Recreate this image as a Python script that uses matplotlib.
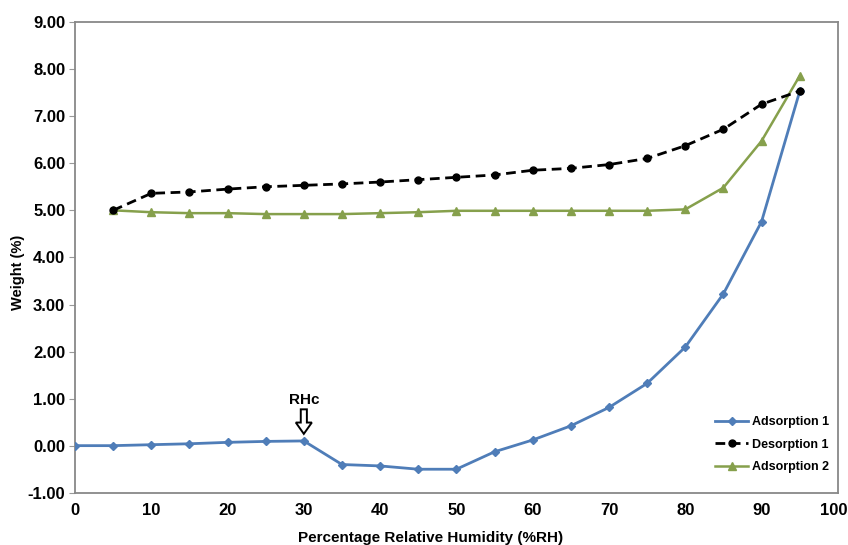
import matplotlib
matplotlib.use('Agg')
import matplotlib.pyplot as plt
import matplotlib.transforms as mtransforms

plt.rcParams['font.family'] = ['Liberation Sans', 'DejaVu Sans']
plt.rcParams['font.weight'] = 'bold'

# relative humidity steps (%RH)
rh = [0, 5, 10, 15, 20, 25, 30, 35, 40, 45, 50, 55, 60, 65, 70, 75, 80, 85, 90, 95]
rh_2 = rh[1:]

# weight change (%)
adsorption_1 = [0.01, 0.01, 0.03, 0.05, 0.08, 0.10, 0.11, -0.39, -0.42, -0.49,
                -0.49, -0.12, 0.13, 0.43, 0.82, 1.33, 2.10, 3.23, 4.76, 7.52]
desorption_1 = [5.00, 5.36, 5.39, 5.45, 5.50, 5.53, 5.56, 5.60, 5.65, 5.70,
                5.75, 5.85, 5.89, 5.97, 6.10, 6.37, 6.72, 7.25, 7.53]
adsorption_2 = [5.00, 4.96, 4.94, 4.94, 4.92, 4.92, 4.92, 4.94, 4.96, 4.99,
                4.99, 4.99, 4.99, 4.99, 4.99, 5.02, 5.48, 6.47, 7.85]

y_ticks = [-1, 0, 1, 2, 3, 4, 5, 6, 7, 8, 9]
x_ticks = [0, 10, 20, 30, 40, 50, 60, 70, 80, 90, 100]

fig = plt.figure(figsize=(8.48, 5.45), dpi=100)
ax = fig.add_axes([0.0884, 0.0949, 0.8996, 0.8653])

ax.plot(rh, adsorption_1, color='#4F7DB8', lw=2.0, marker='D', ms=4.5,
        label='Adsorption 1', zorder=3)
ax.plot(rh_2, desorption_1, color='black', lw=2.0, ls=(0, (3.5, 2)), marker='o',
        ms=5, label='Desorption 1', zorder=4)
ax.plot(rh_2, adsorption_2, color='#86A04C', lw=1.8, marker='^', ms=5.5,
        label='Adsorption 2', zorder=2)

# critical relative humidity marker
ax.text(30, 0.98, 'RHc', ha='center', va='center', fontsize=11, fontweight='bold')
ax.arrow(30, 0.78, 0, -0.52, width=0.8, head_width=2.1, head_length=0.24,
         length_includes_head=True, fc='white', ec='black', lw=1.4, zorder=5)

ax.set_xlim(0, 100)
ax.set_ylim(-1, 9)
ax.set_xticks(x_ticks)
ax.set_yticks(y_ticks)
ax.set_yticklabels([f'{v:.2f}' for v in y_ticks])
ax.tick_params(axis='y', direction='out', length=4, color='#999999', labelsize=12, pad=3)
ax.tick_params(axis='x', length=0, labelsize=12, pad=7)
for lbl in ax.get_xticklabels() + ax.get_yticklabels():
    lbl.set_fontweight('bold')

# keep the last x label inside the figure
last = ax.get_xticklabels()[-1]
last.set_transform(last.get_transform() +
                   mtransforms.ScaledTranslation(-4 / 100, 0, fig.dpi_scale_trans))

for sp in ax.spines.values():
    sp.set_color('#888888')
    sp.set_linewidth(1.3)

ax.set_xlabel('Percentage Relative Humidity (%RH)', fontsize=11, fontweight='bold')
ax.xaxis.set_label_coords(0.466, -0.08)
ax.set_ylabel('Weight (%)', fontsize=10.5, fontweight='bold')
ax.yaxis.set_label_coords(-0.066, 0.469)

leg = ax.legend(loc='lower right', bbox_to_anchor=(0.988, 0.042), frameon=False,
                prop={'size': 9, 'weight': 'bold'}, handlelength=2.7,
                handletextpad=0.25, labelspacing=0.85, borderpad=0, borderaxespad=0)

fig.savefig('out.png', dpi=100)
